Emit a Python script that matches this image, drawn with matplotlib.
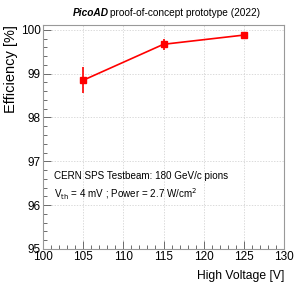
import matplotlib
matplotlib.use("Agg")
import matplotlib.pyplot as plt
from matplotlib.ticker import MultipleLocator

hv = [105, 115, 125]
eff = [98.85, 99.67, 99.88]
err = [0.30, 0.13, 0.03]

plt.rcParams['font.family'] = ['Liberation Sans', 'DejaVu Sans']

fig = plt.figure(figsize=(2.99, 2.88), dpi=100)
ax = fig.add_axes([43/299, 1-249/288, (284-43)/299, (249-25)/288])

ax.errorbar(hv, eff, yerr=err, color='#ff0000', marker='s', markersize=5,
            lw=1.2, elinewidth=1.2, capsize=0, zorder=3)

ax.set_xlim(100, 130)
ax.set_ylim(95, 100.11)
ax.xaxis.set_major_locator(MultipleLocator(5))
ax.xaxis.set_minor_locator(MultipleLocator(1))
ax.yaxis.set_major_locator(MultipleLocator(1))
ax.yaxis.set_minor_locator(MultipleLocator(0.2))
ax.tick_params(which='both', direction='in', top=False, right=False, labelsize=8.5, pad=1.5)
ax.tick_params(which='major', length=6, width=0.6, color='#555555')
ax.tick_params(which='minor', length=3, width=0.6, color='#555555')
ax.grid(True, which='major', ls=(0, (2, 2)), lw=0.5, color='#cccccc')
for s in ax.spines.values():
    s.set_linewidth(0.8)
    s.set_color('#999999')

ax.set_xlabel('High Voltage [V]', fontsize=8.7, loc='right', labelpad=5)
ax.set_ylabel('Efficiency [%]', fontsize=10.5, loc='top', labelpad=2)

ty = 1 - 13/288
fig.text(109/299, ty, 'PicoAD', ha='right', va='center', fontsize=7.3,
         fontweight='bold', style='italic')
fig.text(110.5/299, ty, 'proof-of-concept prototype (2022)', ha='left', va='center',
         fontsize=7.3)
ax.text(0.045, 0.325, 'CERN SPS Testbeam: 180 GeV/c pions', transform=ax.transAxes,
        fontsize=7.1, va='center')
ax.text(0.045, 0.245, r'V$_{\rm th}$ = 4 mV ; Power = 2.7 W/cm$^{2}$', transform=ax.transAxes,
        fontsize=7.1, va='center')

fig.savefig('out.png', dpi=100)
